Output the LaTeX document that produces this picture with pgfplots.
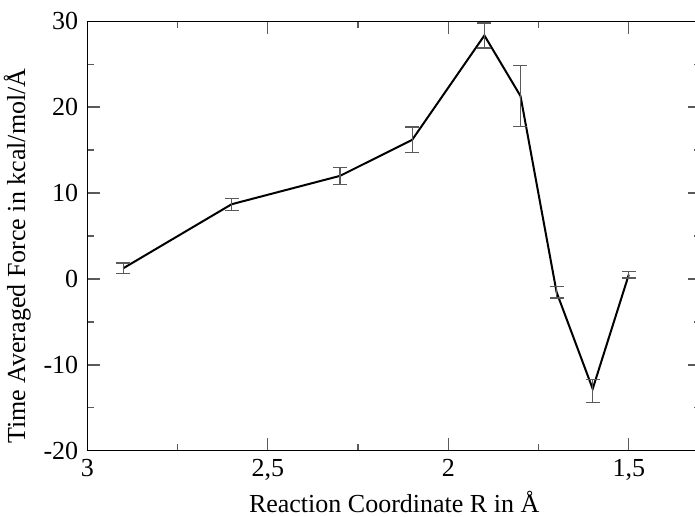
\documentclass[border=0pt]{standalone}
\usepackage{pgfplots}
\pgfplotsset{compat=1.18}
\usepackage{fontspec}
\setmainfont{Liberation Serif}
\definecolor{tickgray}{RGB}{90,90,90}
\begin{document}
\fontsize{13}{15}\selectfont
\begin{tikzpicture}
\begin{axis}[
  at={(0,0)}, anchor=south west,
  scale only axis, width=306.85pt, height=214.7pt,
  x dir=reverse, xmin=1.3, xmax=3, ymin=-20, ymax=30,
  xtick={1.5,2,2.5,3}, minor xtick={1.75,2.25,2.75},
  ytick={-20,-10,...,30}, minor ytick={-15,-5,5,15,25},
  tick align=inside, major tick length=6.5pt, minor tick length=3.5pt,
  every tick/.style={tickgray, line width=0.7pt},
  axis line style={black, line width=0.7pt},
  /pgf/number format/use comma,
  /pgf/number format/assume math mode=true,
  tick label style={font=\fontsize{13}{15}\selectfont},
  label style={font=\fontsize{13}{15}\selectfont},
  xlabel={Reaction Coordinate R in Å},
  ylabel={Time Averaged Force in kcal/mol/Å},
  xlabel shift=-4pt,
  ylabel shift=-2.5pt,
  ylabel style={at={(ticklabel cs:0.453)}},
]
\addplot[black, line width=1pt, mark=none,
  error bars/.cd, y dir=both, y explicit,
  error bar style={tickgray, line width=0.6pt},
  error mark options={rotate=90, mark size=3.5pt, tickgray, line width=0.6pt}]
coordinates {
  (2.9,1.25) +- (0,0.6)
  (2.6,8.7) +- (0,0.7)
  (2.3,12.0) +- (0,1.0)
  (2.1,16.2) +- (0,1.5)
  (1.9,28.35) +- (0,1.45)
  (1.8,21.3) +- (0,3.55)
  (1.7,-1.55) +- (0,0.68)
  (1.6,-12.8) += (0,1.1) -= (0,1.6)
  (1.5,0.5) +- (0,0.4)
};
\end{axis}
\pgfresetboundingbox
\useasboundingbox (-43.65pt,-33.15pt) rectangle (303.85pt,225.35pt);
\end{tikzpicture}
\end{document}
